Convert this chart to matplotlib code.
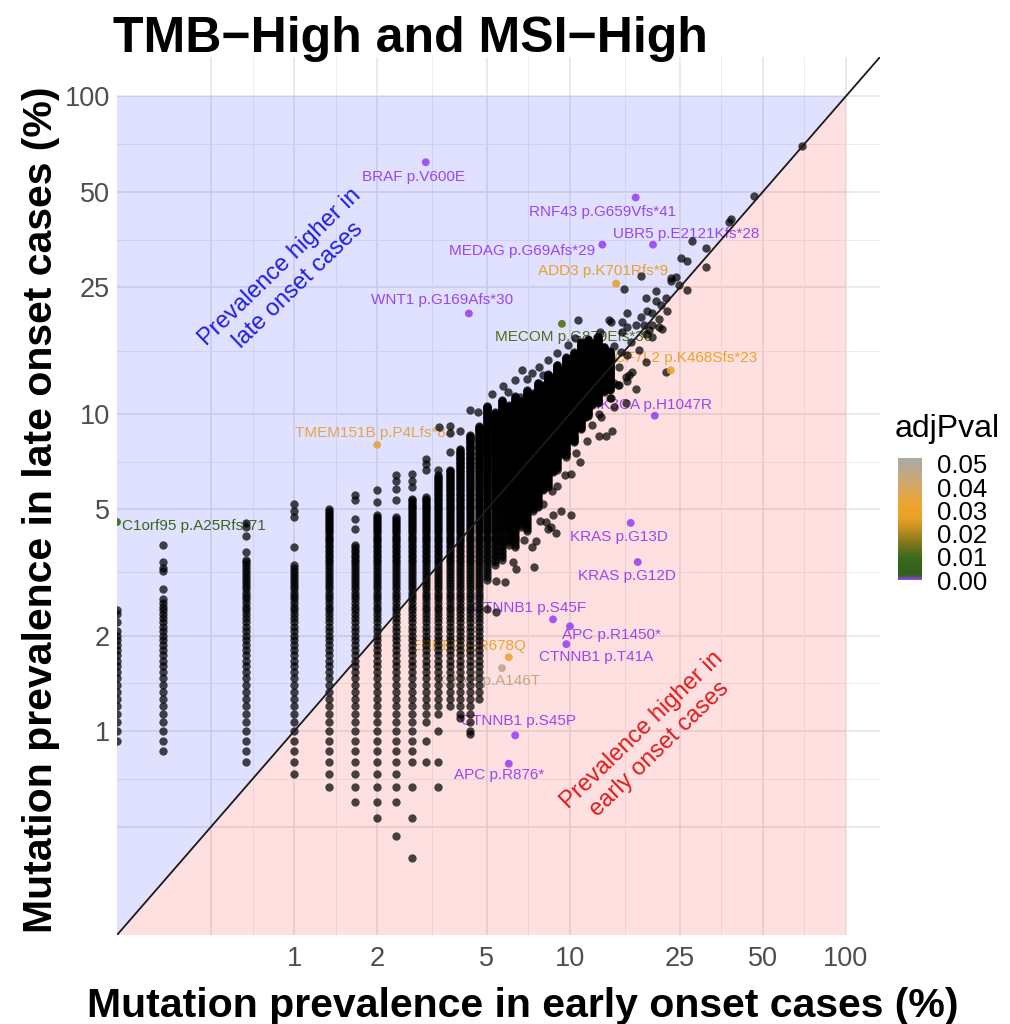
import numpy as np
import matplotlib.pyplot as plt
from matplotlib.colors import LinearSegmentedColormap, Normalize
from matplotlib.cm import ScalarMappable
from matplotlib.patches import Polygon
from matplotlib.ticker import NullLocator

plt.rcParams['font.family'] = ['Liberation Sans', 'DejaVu Sans']

# cohort sizes (prevalence steps seen in the dot columns)
N_EARLY = 300
N_LATE = 1500

# vertical stacks of dots: early count, lowest / highest late count of the stack
stack_early = [0, 1, 2, 3, 4, 5, 6, 7, 8, 9, 10, 11, 12, 13, 14,
               15, 16, 17, 18, 19, 20, 21, 22, 23, 24, 25, 26, 27, 28,
               29, 30, 31, 32, 33, 34, 35, 36, 38, 40, 42]
stack_lo = [14, 13, 12, 11, 10, 9, 8, 9, 12, 16, 17, 18, 17, 15, 19,
            45, 50, 52, 58, 57, 66, 64, 74, 76, 86, 88, 98, 100, 112,
            110, 124, 122, 136, 134, 146, 148, 160, 162, 176, 178]
stack_hi = [31, 39, 52, 50, 75, 58, 72, 71, 81, 82, 96, 100, 116, 129, 137,
            159, 152, 166, 160, 170, 165, 178, 174, 188, 185, 200, 196, 214, 205,
            226, 218, 234, 228, 252, 240, 258, 250, 262, 244, 236]

# single dots sitting apart from the stacks (early count, late count)
extra_early = [0, 0, 0, 1, 1, 1, 1, 1, 2, 2, 2, 2, 3, 3, 3, 3,
               5, 5, 5, 5, 6, 6, 7, 7, 7, 7, 7, 8, 8, 8, 8, 8, 8,
               9, 9, 9, 9, 9, 10, 10, 10, 10, 11, 11, 11, 12]
extra_late = [33, 35, 36, 42, 48, 49, 51, 58, 55, 62, 66, 68, 57, 71, 74, 78,
              65, 70, 80, 83, 79, 86, 7, 80, 87, 92, 96, 10, 8, 6, 88, 92, 97,
              14, 12, 100, 104, 108, 15, 12, 10, 100, 114, 130, 137, 132]

# loose dots of the upper cloud (% early, % late)
loose_early = [69.3, 46.4, 38.3, 37.7, 27.7, 31.1, 25.2, 26.5, 31.1, 18.1,
               15.7, 23.2, 24.9, 26.5, 20.5, 18.8, 22.3, 20.5, 21.4, 19.0,
               18.1, 22.5, 10.7, 14.1, 15.4, 17.3, 19.8, 21.0, 21.6, 16.7,
               18.8, 19.8, 11.4, 15.3, 13.0, 14.1, 16.1, 16.8, 15.9, 16.1,
               6.7, 7.3, 8.0, 5.95, 15.9, 16.1, 13.8, 14.9, 16.3, 12.7,
               12.7, 13.5, 14.2, 11.0, 3.35, 4.35, 4.65, 5.0, 6.6, 10.9,
               10.1, 8.6, 9.3, 8.7, 8.2, 6.9, 7.3, 7.4, 6.35, 5.4,
               5.8, 10.1, 8.9, 8.3, 8.5, 7.5, 5.0, 5.4, 4.0, 4.33,
               13.0, 13.5, 14.5, 14.0, 15.0, 13.2, 12.5, 11.8,
               23.2, 24.2, 19.8, 21.0, 18.5, 15.4, 12.4, 12.9, 16.1, 19.3,
               14.4, 17.8, 18.8, 22.3, 17.3, 15.1, 14.1,
               6.2, 6.8, 7.8, 8.0, 9.0, 9.6, 10.5, 11.5, 12.0, 13.0, 14.5,
               5.2, 5.7, 6.3, 7.0, 7.7, 8.3, 9.0, 9.8, 10.4]
loose_late = [69.5, 48.7, 41.2, 40.3, 34.9, 33.3, 31.0, 30.2, 29.0, 27.2,
              24.8, 26.1, 25.4, 24.6, 24.3, 23.1, 23.1, 22.6, 22.0, 21.0,
              20.2, 21.0, 19.8, 19.5, 19.5, 19.0, 19.0, 18.8, 18.5, 16.8,
              17.8, 17.4, 16.4, 15.7, 14.6, 14.9, 15.3, 13.5, 13.1, 12.7,
              13.7, 13.4, 13.2, 11.7, 10.8, 20.7, 19.7, 12.3, 13.2, 10.0,
              8.5, 8.5, 8.8, 10.6, 9.1, 10.3, 10.1, 10.4, 11.3, 7.05,
              6.46, 5.7, 4.95, 4.8, 4.55, 4.5, 3.8, 3.3, 3.24, 2.97,
              2.95, 4.8, 4.2, 4.33, 4.4, 3.97, 2.42, 2.37, 1.1, 0.98,
              12.0, 13.0, 12.5, 11.2, 14.0, 15.5, 17.5, 15.2,
              26.8, 27.0, 20.7, 19.9, 19.0, 18.1, 16.8, 18.1, 18.8, 18.4,
              16.4, 15.9, 14.6, 13.5, 12.0, 12.3, 11.2,
              3.4, 4.0, 4.6, 5.2, 5.9, 6.4, 7.5, 8.2, 9.2, 9.8, 10.5,
              11.5, 12.2, 12.8, 12.9, 14.0, 14.8, 15.5, 16.5, 17.3]

# labelled mutations
mut_label = ['BRAF p.V600E', 'RNF43 p.G659Vfs*41', 'UBR5 p.E2121Kfs*28',
             'MEDAG p.G69Afs*29', 'ADD3 p.K701Rfs*9', 'WNT1 p.G169Afs*30',
             'MECOM p.G879Efs*30', 'TCF7L2 p.K468Sfs*23', 'PIK3CA p.H1047R',
             'TMEM151B p.P4Lfs*84', 'C1orf95 p.A25Rfs*71', 'KRAS p.G13D',
             'KRAS p.G12D', 'CTNNB1 p.S45F', 'APC p.R1450*', 'CTNNB1 p.T41A',
             'ERBB2 p.R678Q', 'KRAS p.A146T', 'CTNNB1 p.S45P', 'APC p.R876*']
mut_early = [3.0, 17.3, 20.0, 13.1, 14.7, 4.3, 9.35, 23.2, 20.3, 2.0,
             0.0, 16.6, 17.6, 8.68, 10.0, 9.7, 6.0, 5.67, 6.33, 6.0]
mut_late = [62.0, 48.0, 34.1, 34.1, 25.7, 20.7, 19.2, 13.7, 9.86, 7.98,
            4.56, 4.53, 3.41, 2.25, 2.14, 1.88, 1.71, 1.58, 0.97, 0.79]
mut_padj = [0.0, 0.0, 0.0, 0.0, 0.028, 0.0, 0.012, 0.03, 0.0, 0.036,
            0.008, 0.0, 0.0, 0.0, 0.0, 0.0, 0.034, 0.046, 0.0, 0.0]
# label offset from its dot, in pixels
label_dx = [-12, -33, 33, -80, -13, -27, 12, 10, -6, -3,
            5, -12, -11, -24, 41, 30, -40, -13, 3, -10]
label_dy = [-15, -14, 11, -6, 13, 13, -13, 12, 11, 12,
            -4, -14, -14, 11, -9, -13, 11, -13, 14, -11]

tick_vals = [1, 2, 5, 10, 25, 50, 100]
grid_major = [0.5, 1, 2, 5, 10, 25, 50, 100]
grid_minor = [0.707, 1.414, 3.162, 7.071, 15.81, 35.36, 70.71]

LO, HI = 0.228, 133.0

# build dot table
xs, ys = [], []
for k, lo, hi in zip(stack_early, stack_lo, stack_hi):
    for j in range(lo, hi + 1):
        xs.append(100 * k / N_EARLY)
        ys.append(100 * j / N_LATE)
for k, j in zip(extra_early, extra_late):
    xs.append(100 * k / N_EARLY)
    ys.append(100 * j / N_LATE)
xs += loose_early
ys += loose_late
xs = np.clip(np.array(xs), LO, None)  # zero prevalence squished to the axis edge
ys = np.array(ys)

mx = np.clip(np.array(mut_early), LO, None)
my = np.array(mut_late)

cmap = LinearSegmentedColormap.from_list('padj', [
    (0.0, '#9a45f2'), (0.04, '#2e5e1a'), (0.19, '#3c6a1c'), (0.32, '#8c7a1c'),
    (0.50, '#e9a024'), (0.63, '#eda532'), (0.80, '#cfa870'), (1.0, '#a9a9a9')])
norm = Normalize(0, 0.0525)

fig = plt.figure(figsize=(10.1, 10.24), dpi=100)
ax = fig.add_axes([117 / 1010, 1 - 935 / 1024, 763 / 1010, 878 / 1024])
ax.set_xscale('log')
ax.set_yscale('log')
ax.set_xlim(LO, HI)
ax.set_ylim(LO, HI)

for v in grid_major:
    ax.axvline(v, color='#e6e6e6', lw=1.2, zorder=0)
    ax.axhline(v, color='#e6e6e6', lw=1.2, zorder=0)
for v in grid_minor:
    ax.axvline(v, color='#eeeeee', lw=0.7, zorder=0)
    ax.axhline(v, color='#eeeeee', lw=0.7, zorder=0)

ax.add_patch(Polygon([(LO, LO), (LO, 100), (100, 100)], closed=True,
                     facecolor='blue', alpha=0.12, edgecolor='none', zorder=1))
ax.add_patch(Polygon([(LO, LO), (100, 100), (100, LO)], closed=True,
                     facecolor='red', alpha=0.12, edgecolor='none', zorder=1))

for i, name in enumerate(mut_label):
    ax.annotate(name, (mx[i], my[i]), xytext=(label_dx[i], label_dy[i]),
                textcoords='offset pixels', fontsize=11,
                color=cmap(norm(mut_padj[i])),
                ha='left' if name.startswith('C1orf95') else 'center',
                va='center', zorder=3)

ax.scatter(xs, ys, s=36, color='black', alpha=0.72, linewidths=0, zorder=4)
ax.scatter(mx, my, s=32, c=cmap(norm(np.array(mut_padj))), alpha=0.9,
           linewidths=0, zorder=5)

ax.axline((1, 1), (10, 10), color='#1a1a1a', lw=1.3, zorder=6)

ax.text(0.96, 27.1, 'Prevalence higher in\nlate onset cases', color='#1f1fe0',
        fontsize=17, rotation=44, ha='center', va='center',
        rotation_mode='anchor', multialignment='center', zorder=3)
ax.text(19.6, 0.94, 'Prevalence higher in\nearly onset cases', color='#e01b1b',
        fontsize=17, rotation=44, ha='center', va='center',
        rotation_mode='anchor', multialignment='center', zorder=3)

ax.set_xticks(tick_vals)
ax.set_xticklabels([str(t) for t in tick_vals])
ax.set_yticks(tick_vals)
ax.set_yticklabels([str(t) for t in tick_vals])
ax.xaxis.set_minor_locator(NullLocator())
ax.yaxis.set_minor_locator(NullLocator())
ax.tick_params(length=0, labelsize=19.5, labelcolor='#4d4d4d')
ax.tick_params(axis='x', pad=8)
ax.tick_params(axis='y', pad=5)
for s in ax.spines.values():
    s.set_visible(False)

fig.text(113 / 1010, 1 - 52 / 1024, 'TMB\u2212High and MSI\u2212High',
         fontsize=36, fontweight='bold', ha='left', va='baseline')
fig.text(523 / 1010, 1 - 1017 / 1024, 'Mutation prevalence in early onset cases (%)',
         fontsize=29.5, fontweight='bold', ha='center', va='baseline')
fig.text(41 / 1010, 1 - 510 / 1024, 'Mutation prevalence in late onset cases (%)',
         fontsize=29.5, fontweight='bold', ha='center', va='center', rotation=90)

# colour bar legend
cax = fig.add_axes([898 / 1010, 1 - 580 / 1024, 24 / 1010, 122 / 1024])
cb = fig.colorbar(ScalarMappable(norm=norm, cmap=cmap), cax=cax)
cb.outline.set_visible(False)
cb.set_ticks([0, 0.01, 0.02, 0.03, 0.04, 0.05])
cb.set_ticklabels(['0.00', '0.01', '0.02', '0.03', '0.04', '0.05'])
cax.tick_params(length=0, labelsize=18.5, pad=11)
fig.text(895 / 1010, 1 - 437 / 1024, 'adjPval', fontsize=23, ha='left', va='baseline')

fig.savefig('out.png', dpi=100)
